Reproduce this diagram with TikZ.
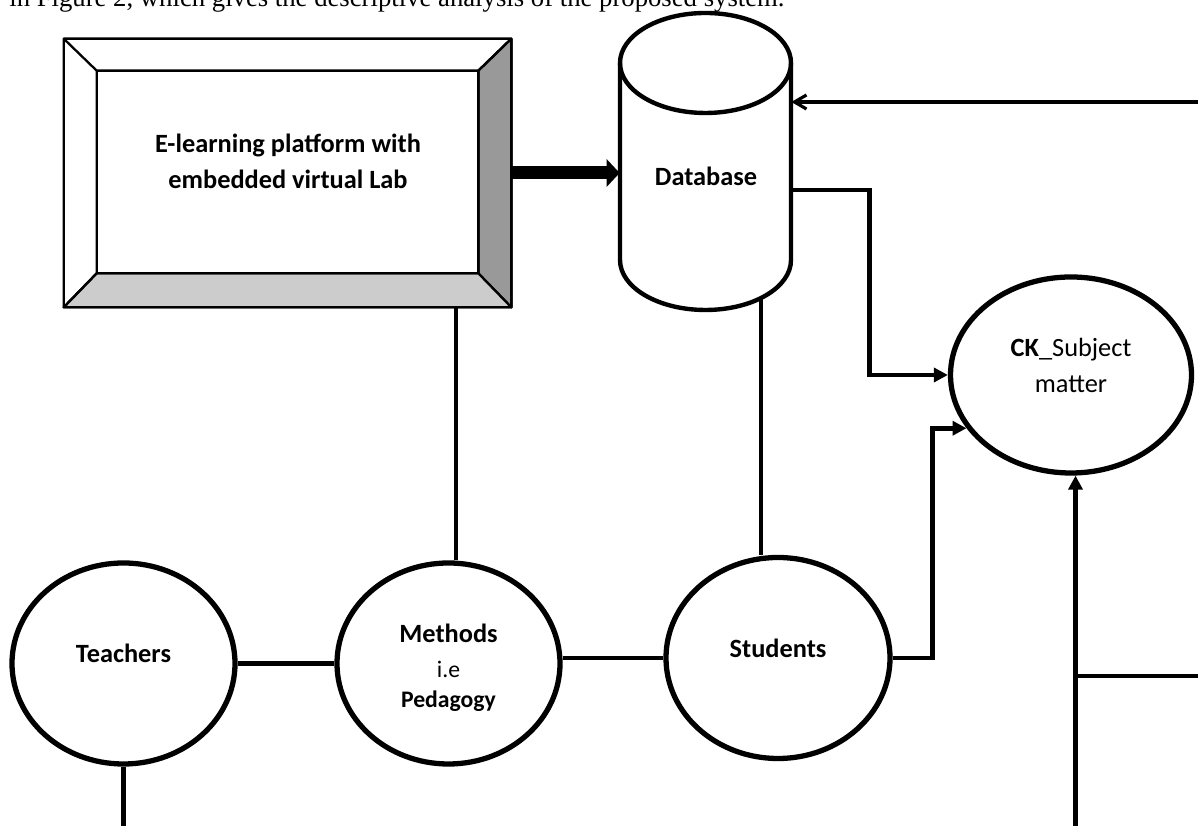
\documentclass[tikz,border=0pt]{standalone}
\usepackage{fontspec}
\setmainfont{Carlito}
\newfontfamily\capfont{Liberation Serif}
\newcommand\lblsmall{\fontsize{13.5}{17}\selectfont}
\usetikzlibrary{shapes.geometric,arrows.meta,calc}

\begin{document}
\begin{tikzpicture}[line join=miter,
  bubble/.style={draw,ellipse,line width=3pt,fill=white,minimum width=4.46cm,minimum height=4.02cm,inner sep=0pt},
  lbl/.style={font=\fontsize{15}{20.5}\selectfont\bfseries,align=center},
  link/.style={line width=2.7pt},
  head/.style={-{Triangle[length=2.8mm,width=2.8mm]}},
  bevel/.style={draw,line width=1.3pt,line join=round}]

  \useasboundingbox (0,0) rectangle (23.96,16.52);
  \begin{scope}
    \clip (0,0) rectangle (23.96,16.52);
    \node[anchor=base west,inner sep=0pt,font=\capfont\fontsize{15.2}{18}\selectfont] (caption) at (0.18,16.38) {in Figure 2, which gives the descriptive analysis of the proposed system.};
  \end{scope}

  % bevelled platform box
  \node[minimum width=8.94cm,minimum height=5.36cm,inner sep=0pt,fill=white] (elearn) at (5.75,13.06) {};
  \coordinate (inNW) at ($(elearn.north west)+(0.66,-0.64)$);
  \coordinate (inNE) at ($(elearn.north east)+(-0.66,-0.64)$);
  \coordinate (inSE) at ($(elearn.south east)+(-0.66,0.68)$);
  \coordinate (inSW) at ($(elearn.south west)+(0.66,0.68)$);
  \draw[bevel,fill=gray!80] (elearn.north east) -- (elearn.south east) -- (inSE) -- (inNE) -- cycle;
  \draw[bevel,fill=gray!40] (elearn.south west) -- (elearn.south east) -- (inSE) -- (inSW) -- cycle;
  \draw[bevel] (elearn.north west) rectangle (elearn.south east) (inNW) rectangle (inSE)
    (elearn.north west) -- (inNW) (elearn.north east) -- (inNE) (elearn.south west) -- (inSW);
  \node[lbl] (elearntxt) at (5.76,13.30) {E-learning platform with\\embedded virtual Lab};

  % database cylinder
  \node[minimum width=3.42cm,minimum height=5.94cm,inner sep=0pt] (db) at (14.11,13.29) {};
  \draw[line width=2.5pt,fill=white] (12.40,15.26) -- (12.40,11.32)
    arc[start angle=180,end angle=360,x radius=1.71,y radius=1] -- (15.82,15.26)
    arc[start angle=0,end angle=180,x radius=1.71,y radius=1] -- cycle;
  \draw[line width=2.5pt] (12.40,15.26) arc[start angle=180,end angle=360,x radius=1.71,y radius=1];
  \node[lbl] (dbtxt) at (14.12,13.0) {Database};

  % circles
  \node[bubble] (teachers) at (2.47,3.25) {};
  \node[bubble] (methods) at (8.97,3.25) {};
  \node[bubble,minimum width=4.48cm] (students) at (15.56,3.36) {};
  \node[bubble,minimum width=4.82cm,minimum height=3.92cm] (ck) at (21.42,9.02) {};
  \node[lbl] at ([yshift=2.1mm]teachers.center) {Teachers};
  \node[lbl] at ([yshift=2mm]students.center) {Students};
  \node[lbl] at ([yshift=-0.8mm]methods.center) {Methods\\[-0.5pt]{\lblsmall\mdseries i.e}\\[-3.5pt]{\lblsmall Pedagogy}};
  \node[lbl,font=\fontsize{15}{20.5}\selectfont] at ([yshift=2mm]ck.center) {\textbf{CK}\_Subject\\matter};

  % free ends
  \coordinate (dbfeed) at (23.96,14.48);
  \coordinate (dbfoot) at (15.22,10.55);
  \coordinate (elfoot) at (9.12,10.38);
  \coordinate (ckfeed) at (21.51,0);
  \coordinate (ckside) at (23.96,3.0);

  % connectors
  \draw[line width=2.6mm,-{Triangle[length=2.6mm,width=5.4mm]}] (elearn.east) -- (elearn.east -| db.west);
  \draw[line width=1.8pt,-{Straight Barb[length=2.4mm,width=2.8mm]}] (dbfeed) -- (dbfeed -| db.east);
  \draw[link,head] ([yshift=-5.7mm]db.east) -- ++(1.56,0) |- (ck.west);
  \draw[link,head] (students.east) -- ++(0.8,0) |- (ck.207);
  \draw[link,head] (ckfeed) -- (ckfeed |- ck.south);
  \draw[link] (ckside -| ckfeed) -- (ckside);
  \draw[link] (dbfoot) -- (dbfoot |- students.north);
  \draw[link] (elfoot) -- (elfoot |- methods.north);
  \draw[link] (teachers) -- (methods);
  \draw[link] (methods.east |- students.west) -- (students.west);
  \draw[link] (teachers.south) -- (teachers.south |- 0,0);
\end{tikzpicture}
\end{document}
